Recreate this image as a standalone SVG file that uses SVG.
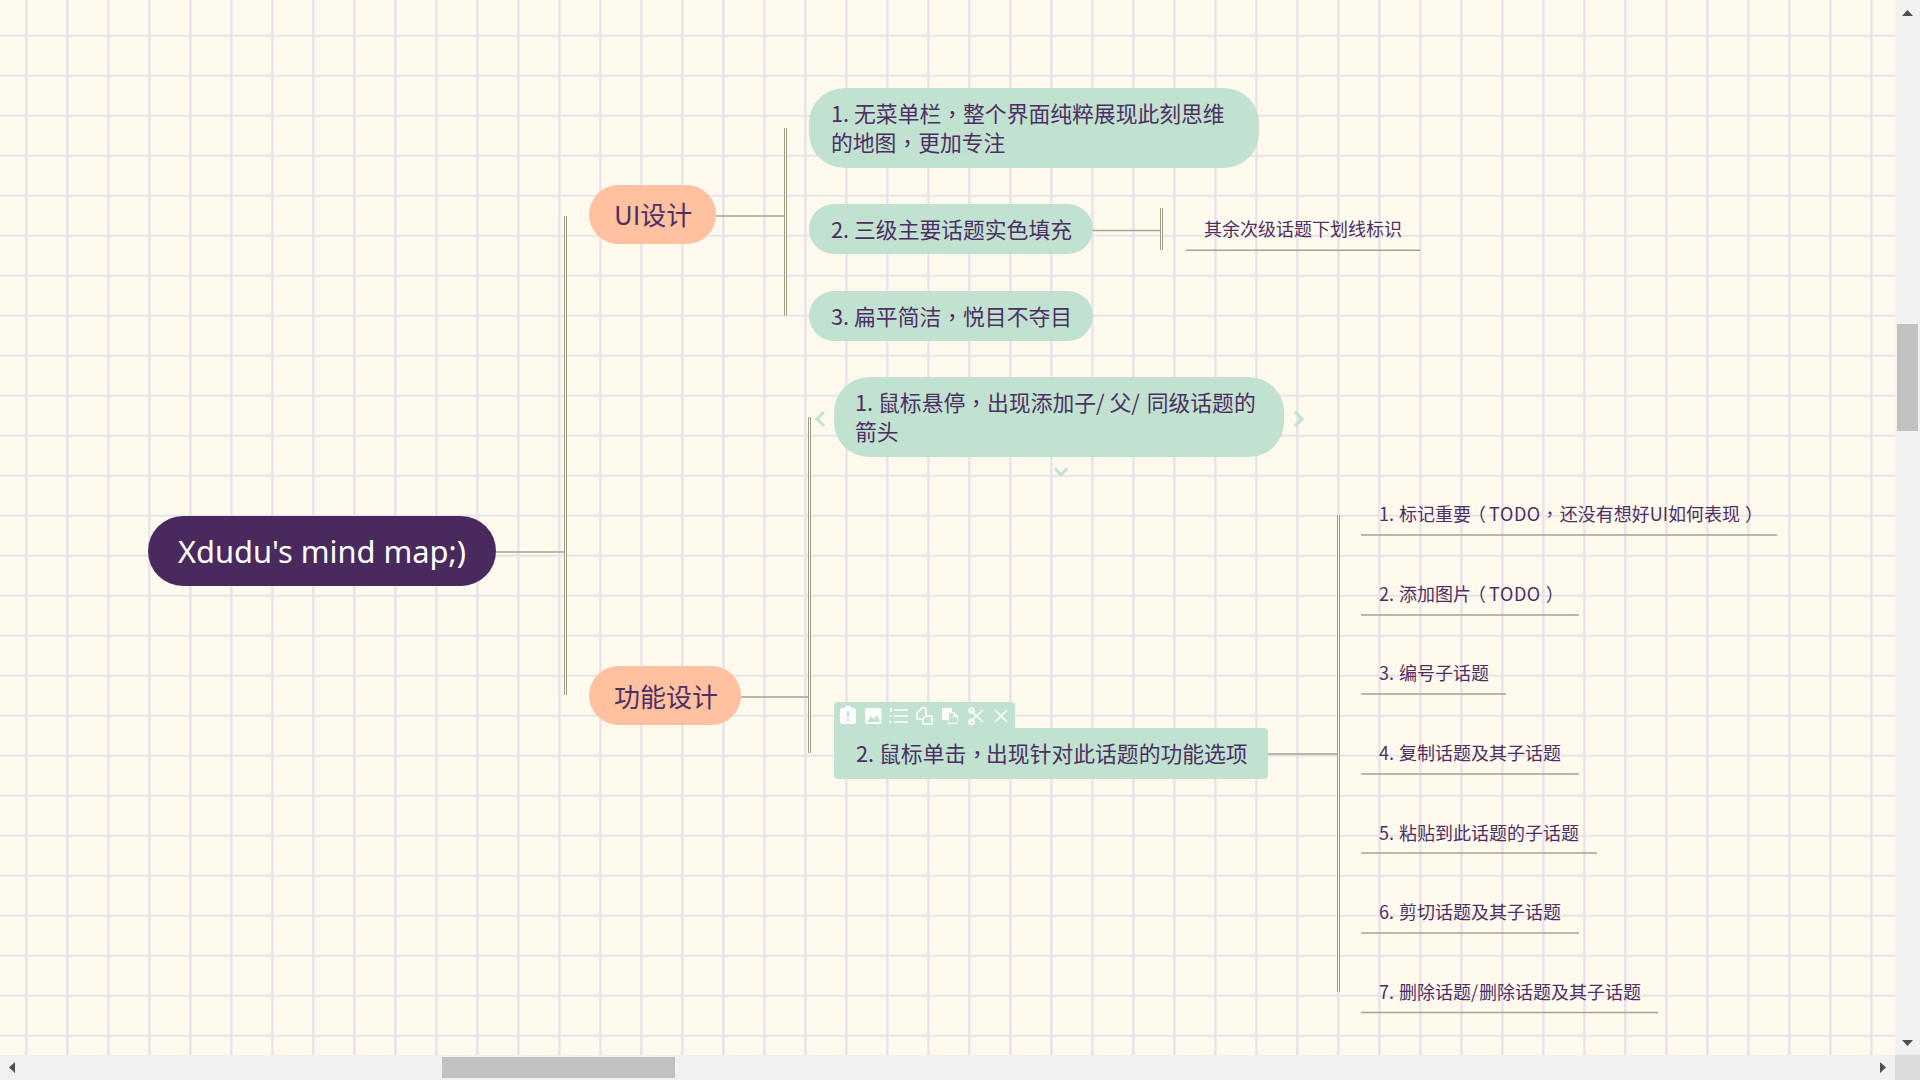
<svg xmlns="http://www.w3.org/2000/svg" width="1920" height="1080" viewBox="0 0 1920 1080">
<defs>
<pattern id="grid" width="41" height="40" patternUnits="userSpaceOnUse">
<rect width="41" height="40" fill="#fffaed"/>
<rect x="25.2" width="2.4" height="40" fill="#e8e3ea"/>
<rect y="34.7" width="41" height="2" fill="#e8e3ea"/>
</pattern>
</defs>
<style>
text{font-family:"Noto Sans CJK SC","Noto Sans",sans-serif;fill:#4d2f63}
.c{font-family:"Noto Sans CJK TC","Noto Sans CJK SC",sans-serif}
.t{font-size:21.8px}
.s{font-size:18px}
.g{fill:#c1e2d1}
.l{stroke:#a7a58a;stroke-width:1.5;fill:none}
.d{stroke:#a09e85;stroke-width:3;fill:none}
.dc{stroke:#fffaed;stroke-width:1;fill:none}
.ch{stroke:#c1e2d1;stroke-width:3;fill:none}
.w{fill:#fff}
.ws{stroke:#fff;stroke-width:1.6;fill:none}
.bar{fill:#f1f1f1}
.thumb{fill:#c1c1c1}
.ar{fill:#505050}
</style>
<rect width="1895" height="1055" fill="url(#grid)"/>
<g id="connectors">
<path class="l" d="M496 552H564M716 216H785M1092 230.500H1160M741 697H808M1268 754H1337"/>
<path class="d" d="M565.500 216V695M785.500 128V316M1161.500 208V250M809.500 417V753M1338.500 515V992"/>
<path class="dc" d="M565.500 216V695M785.500 128V316M1161.500 208V250M809.500 417V753M1338.500 515V992"/>
</g>
<g id="root">
<rect x="148" y="516" width="348" height="70" rx="35" fill="#4a2a5e"/>
<text x="322" y="563" text-anchor="middle" font-size="30.800" style="fill:#fff;font-family:'Noto Sans',sans-serif">Xdudu's mind map;)</text></g>
<g id="ui"><rect x="589" y="185" width="127" height="59" rx="29.500" fill="#ffc1a0"/>
<text x="614" y="225" font-size="26">UI设计</text></g>
<g id="func"><rect x="589" y="666" width="152" height="59" rx="29.500" fill="#ffc1a0"/>
<text x="614" y="707" font-size="26">功能设计</text></g>
<g id="u1"><rect class="g" x="809" y="88" width="450" height="80" rx="35"/>
<text class="t" x="831" y="122">1. 无菜单栏<tspan class="c">，</tspan>整个界面纯粹展现此刻思维</text>
<text class="t" x="831" y="151">的地图<tspan class="c">，</tspan>更加专注</text></g>
<g id="u2"><rect class="g" x="809" y="204" width="284" height="50" rx="25"/>
<text class="t" x="831" y="238">2. 三级主要话题实色填充</text></g>
<g id="u2a"><path class="l" d="M1186 250.300H1420"/><text class="s" x="1204" y="236">其余次级话题下划线标识</text></g>
<g id="u3"><rect class="g" x="809" y="291" width="284" height="50" rx="25"/>
<text class="t" x="831" y="325">3. 扁平简洁<tspan class="c">，</tspan>悦目不夺目</text></g>
<g id="f1"><rect class="g" x="834" y="377" width="450" height="80" rx="35"/>
<text class="t" x="855" y="411">1. 鼠标悬停<tspan class="c">，</tspan>出现添加子/ 父/<tspan dx="2"> 同级话题的</tspan></text>
<text class="t" x="855" y="440">箭头</text>
<path class="ch" d="M824 412L817 419L824 426M1295 412L1302 419L1295 426M1055 468.500L1061 475L1067 468.500"/></g>
<g id="f2"><path class="g" d="M834 706a4 4 0 0 1 4-4H1011a4 4 0 0 1 4 4V728H1264a4 4 0 0 1 4 4V775a4 4 0 0 1-4 4H838a4 4 0 0 1-4-4Z"/>
<text class="t" x="856" y="762">2. 鼠标单击<tspan class="c">，</tspan><tspan dx="-2">出现针对此话题的功能选项</tspan></text>
<g id="toolbar">
<rect class="w" x="840" y="708" width="16" height="16" rx="2.500"/><rect class="w" x="845" y="706" width="6" height="4" rx="1"/><rect x="847" y="711" width="2" height="6" fill="#c1e2d1"/><rect x="847" y="719" width="2" height="2" fill="#c1e2d1"/>
<rect class="w" x="865" y="708" width="16.500" height="16" rx="2"/><path fill="#c1e2d1" d="M867 722L871 716L874 719L877 715L880 722Z"/>
<path class="ws" d="M894 710H908M894 716H908M894 722H908"/><path class="ws" stroke-width="1" d="M890 708.500H891V712M889.500 716H891.500M889.500 722H891.500"/>
<path class="ws" d="M917 713L922 708H926V716L932 716V724H923V719H917ZM926 716L923 719"/>
<path class="w" d="M942 708H952V712H954L958 716V724H948V720H942Z"/><path fill="#c1e2d1" d="M949 713H953V717H957V723H949Z"/>
<path class="ws" d="M970 722L983 710M970 710L983 722"/><circle class="ws" cx="971.500" cy="710.500" r="2.500"/><circle class="ws" cx="971.500" cy="722" r="2.500"/>
<path class="ws" d="M995 710L1007 722M1007 710L995 722"/>
</g></g>
<g id="s1"><path class="l" d="M1361 535H1777"/><text class="s" x="1379" y="521">1. <tspan dx="1">标记重要</tspan><tspan dx="-3">（</tspan><tspan dx="3" letter-spacing=".6">TODO</tspan><tspan class="c">，</tspan><tspan dx="1">还没有想好UI如何表现</tspan><tspan dx="5">）</tspan></text></g>
<g id="s2"><path class="l" d="M1361 615H1579"/><text class="s" x="1379" y="601">2. <tspan dx="1">添加图片</tspan><tspan dx="-3">（</tspan><tspan dx="3" letter-spacing=".6">TODO</tspan><tspan dx="5">）</tspan></text></g>
<g id="s3"><path class="l" d="M1361 694H1506"/><text class="s" x="1379" y="680">3. <tspan dx="1">编号子话题</tspan></text></g>
<g id="s4"><path class="l" d="M1361 774H1579"/><text class="s" x="1379" y="760">4. <tspan dx="1">复制话题及其子话题</tspan></text></g>
<g id="s5"><path class="l" d="M1361 853H1597"/><text class="s" x="1379" y="840">5. <tspan dx="1">粘贴到此话题的子话题</tspan></text></g>
<g id="s6"><path class="l" d="M1361 933H1579"/><text class="s" x="1379" y="919">6. <tspan dx="1">剪切话题及其子话题</tspan></text></g>
<g id="s7"><path class="l" d="M1361 1012.500H1658"/><text class="s" x="1379" y="998.500">7. <tspan dx="1">删除话题/</tspan><tspan dx="1">删除话题及其子话题</tspan></text></g>
<g id="scrollbars">
<rect class="bar" x="1895" width="25" height="1055"/><rect class="bar" y="1055" width="1895" height="25"/>
<rect x="1895" y="1055" width="25" height="25" fill="#dcdcdc"/>
<rect class="thumb" x="1897" y="324" width="21" height="107"/><rect class="thumb" x="442" y="1057" width="233" height="21"/>
<path class="ar" d="M1902 16L1907.500 10L1913 16ZM1902 1040L1907.500 1046L1913 1040ZM9 1067.500L15 1062V1073ZM1880 1062L1886 1067.500L1880 1073Z"/>
</g>
</svg>
